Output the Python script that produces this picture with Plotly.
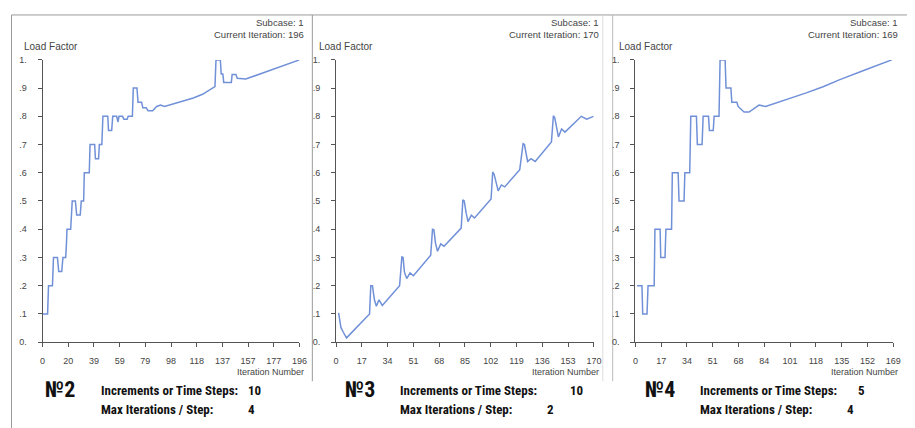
import plotly.graph_objects as go

W, H = 915, 428
OFF = 8  # the page body adds an 8 px margin; page positions are shifted back by it

# ---------------- data ----------------
case2_iter = [0, 3.8, 4.5, 7.5, 8.3, 11.3, 12.3, 14.6, 15.5, 17.6, 18.2, 18.6, 21.4, 22.0, 22.6,
              25.0, 26.0, 28.7, 29.5, 31.3, 31.8, 35.6, 36.2, 39.7, 40.3, 42.7, 43.3, 45.2, 46.0,
              49.7, 50.3, 52.7, 53.5, 56.5, 57.5, 58.3, 61.0, 62.0, 64.5, 65.3, 68.5, 69.2, 72.0,
              72.8, 75.5, 76.5, 79.0, 80.5, 84.0, 87.0, 90.0, 93.0, 105, 115, 122, 131.5, 132.3,
              135.6, 136.3, 137.5, 138.2, 144.0, 144.6, 147.5, 148.5, 155.0, 196]
case2_load = [0.1, 0.1, 0.2, 0.2, 0.3, 0.3, 0.25, 0.25, 0.3, 0.3, 0.35, 0.4, 0.4, 0.45, 0.5,
              0.5, 0.45, 0.45, 0.5, 0.5, 0.6, 0.6, 0.7, 0.7, 0.65, 0.65, 0.7, 0.7, 0.8,
              0.8, 0.75, 0.75, 0.8, 0.8, 0.78, 0.8, 0.8, 0.79, 0.79, 0.8, 0.8, 0.9, 0.9,
              0.85, 0.85, 0.83, 0.83, 0.82, 0.82, 0.835, 0.84, 0.835, 0.85, 0.865, 0.878, 0.905, 1.0,
              1.0, 0.95, 0.95, 0.92, 0.92, 0.948, 0.948, 0.935, 0.932, 1.0]

case3_iter = [1.7, 3.2, 4.8, 6.9, 22.1, 22.9, 24.0, 25.3, 26.6, 28.3, 30.5, 41.9, 43.4, 44.2,
              45.1, 46.6, 48.8, 51.0, 62.4, 63.6, 64.5, 65.6, 66.9, 69.0, 71.2, 82.5, 83.6, 84.5,
              85.8, 87.0, 89.2, 91.3, 102.2, 103.3, 104.2, 106.9, 109.0, 111.2, 121.1, 123.3,
              124.2, 126.3, 128.5, 131.3, 142.0, 143.3, 144.2, 146.6, 148.7, 150.9, 161.7, 165.3, 169.7]
case3_load = [0.104, 0.052, 0.035, 0.015, 0.1, 0.2, 0.2, 0.15, 0.127, 0.15, 0.13, 0.2, 0.302, 0.3,
              0.248, 0.225, 0.245, 0.235, 0.308, 0.4, 0.398, 0.35, 0.322, 0.348, 0.34, 0.404, 0.504, 0.5,
              0.457, 0.427, 0.45, 0.44, 0.507, 0.603, 0.595, 0.536, 0.557, 0.55, 0.611, 0.703,
              0.7, 0.64, 0.65, 0.64, 0.709, 0.802, 0.795, 0.727, 0.755, 0.744, 0.8, 0.79, 0.8]

case4_iter = [1.1, 4.3, 4.8, 7.6, 8.3, 12.3, 12.8, 16.2, 16.6, 19.4, 20.0, 23.7, 24.2, 28.0,
              28.6, 31.9, 32.4, 35.6, 36.3, 40.0, 40.6, 43.7, 44.4, 47.9, 48.5, 51.0, 51.6, 54.8,
              55.5, 58.8, 59.4, 62.6, 63.2, 66.5, 67.3, 69.0, 71.2, 74.5, 81.0, 85.3, 100, 112,
              123, 134, 150, 168]
case4_load = [0.2, 0.2, 0.1, 0.1, 0.2, 0.2, 0.4, 0.4, 0.3, 0.3, 0.4, 0.4, 0.6, 0.6,
              0.5, 0.5, 0.6, 0.6, 0.8, 0.8, 0.7, 0.7, 0.8, 0.8, 0.75, 0.75, 0.8, 0.8,
              1.0, 1.0, 0.9, 0.9, 0.85, 0.85, 0.835, 0.825, 0.815, 0.815, 0.84, 0.835, 0.86, 0.883,
              0.905, 0.93, 0.963, 1.0]

y_tick_vals = [0, 0.1, 0.2, 0.3, 0.4, 0.5, 0.6, 0.7, 0.8, 0.9, 1.0]
y_tick_text = ["0.", ".1", ".2", ".3", ".4", ".5", ".6", ".7", ".8", ".9", "1."]

case2_xticks = ["0", "20", "39", "59", "79", "98", "118", "137", "157", "177", "196"]
case3_xticks = ["0", "17", "34", "51", "68", "85", "102", "119", "136", "153", "170"]
case4_xticks = ["0", "17", "34", "51", "68", "84", "101", "118", "135", "152", "169"]

case_names = ["№2", "№3", "№4"]
max_iters = [196, 170, 169]
increments = ["10", "10", "5"]
max_per_step = ["4", "2", "4"]

# ---------------- layout helpers ----------------
def fx(px):
    return (px - OFF) / W


def fy(py):
    return 1 - (py - OFF) / H


LINE = "#7090d8"
AX = "#555555"
TXT = "#444444"
UI_FONT = "Liberation Sans, Arial, sans-serif"
BOLD_FONT = "Liberation Sans Narrow, Roboto Condensed, Open Sans, sans-serif"

panels = [
    dict(x=case2_iter, y=case2_load, ticks=case2_xticks, ax0=40, ax1=300, left=19, right=307),
    dict(x=case3_iter, y=case3_load, ticks=case3_xticks, ax0=337, ax1=598, left=318, right=605),
    dict(x=case4_iter, y=case4_load, ticks=case4_xticks, ax0=640, ax1=901, left=621, right=908),
]

fig = go.Figure()
annotations = []
layout = dict(
    width=W, height=H, margin=dict(l=0, r=0, t=0, b=0),
    paper_bgcolor="white", plot_bgcolor="white", showlegend=False,
)

for i, p in enumerate(panels):
    n = "" if i == 0 else str(i + 1)
    xm = max_iters[i]
    fig.add_trace(go.Scatter(x=p["x"], y=p["y"], mode="lines",
                             line=dict(color=LINE, width=1.5),
                             xaxis="x" + n, yaxis="y" + n, hoverinfo="skip"))
    tv = [k * xm / 10 for k in range(11)]
    layout["xaxis" + n] = dict(
        domain=[fx(p["ax0"]), fx(p["ax1"])], range=[0, xm], anchor="y" + n,
        showgrid=False, zeroline=False, showline=True, linecolor=AX, linewidth=1,
        ticks="outside", ticklen=4, tickcolor=AX, tickvals=tv, ticktext=p["ticks"],
        tickfont=dict(family=UI_FONT, size=9, color=TXT), ticklabelstandoff=6,
        fixedrange=True,
    )
    layout["yaxis" + n] = dict(
        domain=[fy(345), fy(56)], range=[0, 1], anchor="x" + n,
        showgrid=False, zeroline=False, showline=True, linecolor=AX, linewidth=1,
        ticks="outside", ticklen=4, tickcolor=AX, tickvals=y_tick_vals, ticktext=y_tick_text,
        tickfont=dict(family=UI_FONT, size=9, color=TXT), ticklabelstandoff=9,
        fixedrange=True,
    )
    annotations += [
        dict(text="Subcase: 1", x=fx(p["right"]), y=fy(18), xanchor="right", yanchor="middle"),
        dict(text="Current Iteration: %d" % xm, x=fx(p["right"]), y=fy(30),
             xanchor="right", yanchor="middle"),
        dict(text="Iteration Number", x=fx(p["right"]), y=fy(376), xanchor="right",
             yanchor="middle", font=dict(family=UI_FONT, size=9, color=TXT)),
        dict(text="Load Factor", x=fx(p["left"]), y=fy(42), xanchor="left",
             yanchor="middle", font=dict(family=UI_FONT, size=10, color=TXT)),
    ]

for a in annotations:
    a.setdefault("font", dict(family=UI_FONT, size=9.5, color=TXT))
    a.update(xref="paper", yref="paper", showarrow=False)

# bottom captions
name_x = [40, 344, 648]
label_x = [97, 400, 703]
inc_val_x = [246, 572, 863]
max_val_x = [246, 548, 852]
CAP = dict(xref="paper", yref="paper", showarrow=False, xanchor="left", yanchor="middle")
for i in range(3):
    annotations.append(dict(text="<b>%s</b>" % case_names[i], x=fx(name_x[i]), y=fy(394),
                            font=dict(family=BOLD_FONT, size=22, color="#111111"), **CAP))
    annotations.append(dict(text="<b>Increments or Time Steps:</b>", x=fx(label_x[i]), y=fy(395),
                            font=dict(family=BOLD_FONT, size=13, color="#111111"), **CAP))
    annotations.append(dict(text="<b>%s</b>" % increments[i], x=fx(inc_val_x[i]), y=fy(395),
                            font=dict(family=BOLD_FONT, size=13, color="#111111"), **CAP))
    annotations.append(dict(text="<b>Max Iterations / Step:</b>", x=fx(label_x[i]), y=fy(414),
                            font=dict(family=BOLD_FONT, size=13, color="#111111"), **CAP))
    annotations.append(dict(text="<b>%s</b>" % max_per_step[i], x=fx(max_val_x[i]), y=fy(414),
                            font=dict(family=BOLD_FONT, size=13, color="#111111"), **CAP))

# window frame lines
shapes = [
    dict(type="line", x0=fx(8.5), x1=fx(915 + OFF), y0=fy(10), y1=fy(10), line=dict(color="#9a9a9a", width=1)),
    dict(type="line", x0=fx(8.5), x1=fx(8.5), y0=fy(10), y1=fy(428 + OFF), line=dict(color="#9a9a9a", width=1)),
    dict(type="line", x0=fx(313), x1=fx(313), y0=fy(10), y1=fy(385), line=dict(color="#9a9a9a", width=1)),
    dict(type="line", x0=fx(607), x1=fx(607), y0=fy(10), y1=fy(385), line=dict(color="#dddddd", width=1)),
    dict(type="line", x0=fx(617), x1=fx(617), y0=fy(10), y1=fy(385), line=dict(color="#bbbbbb", width=1)),
]
for s in shapes:
    s.update(xref="paper", yref="paper", layer="below")

layout["annotations"] = annotations
layout["shapes"] = shapes
fig.update_layout(**layout)
fig.write_html("out.html")
